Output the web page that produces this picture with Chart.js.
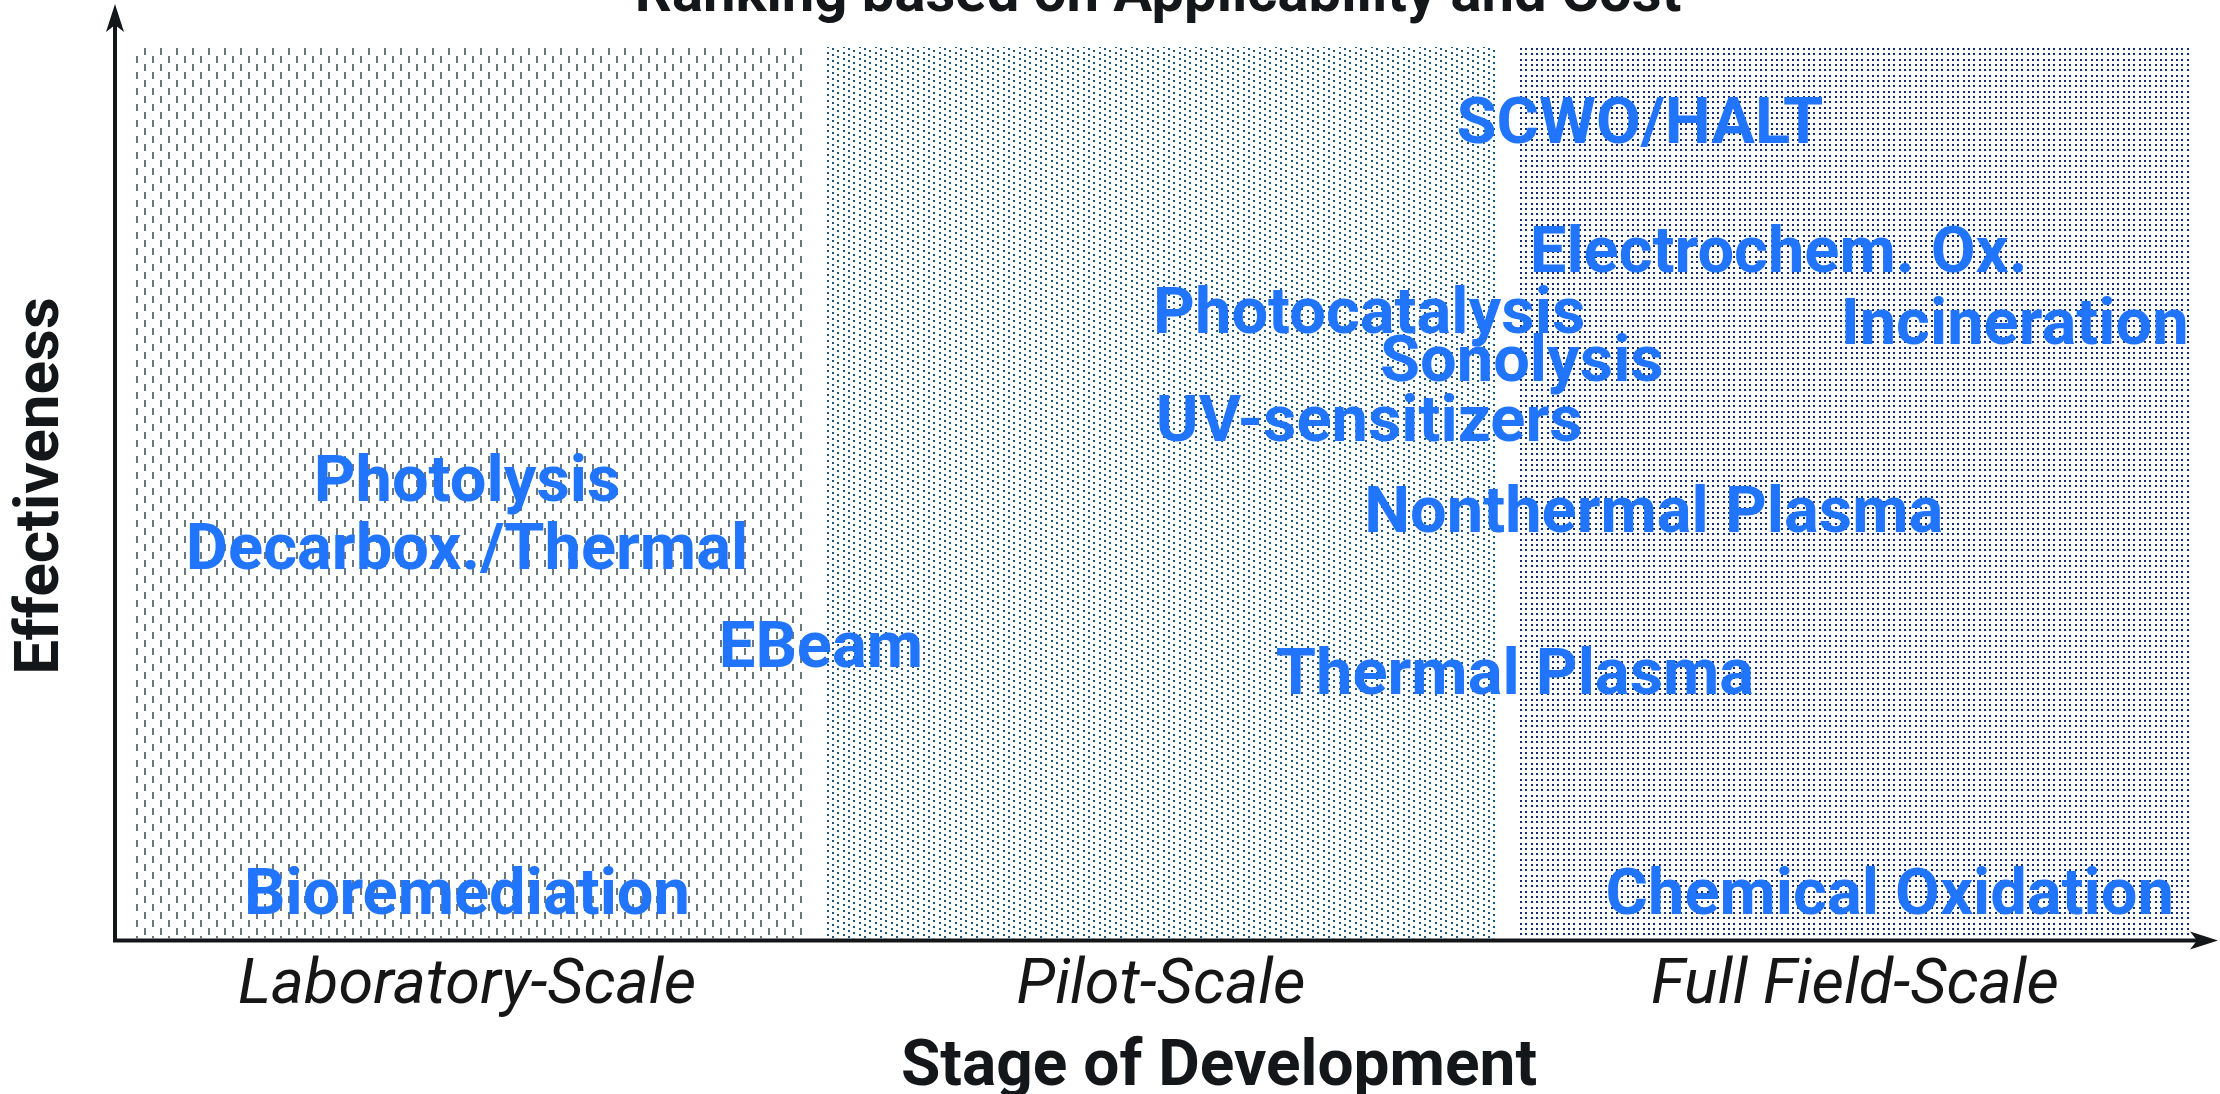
<!DOCTYPE html>
<html>
<head>
<meta charset="utf-8">
<title>Ranking based on Applicability and Cost</title>
<script src="https://cdn.jsdelivr.net/npm/chart.js@4.4.1/dist/chart.umd.min.js"></script>
<style>
  html, body { margin: 0; padding: 0; background: #ffffff; overflow: hidden; }
  canvas { display: block; }
</style>
</head>
<body>
<canvas id="ranking" width="2220" height="1094"></canvas>
<script>
// stages of development along the x axis
const stages = ['Laboratory-Scale', 'Pilot-Scale', 'Full Field-Scale'];
// every stage zone covers the full effectiveness range
const zoneLow = [0, 0, 0];
const zoneHigh = [10, 10, 10];

// technologies: stage position (0 = lab, 1 = pilot, 2 = full field) and effectiveness (0-10)
const techNames = [
  'SCWO/HALT', 'Electrochem. Ox.', 'Photocatalysis', 'Incineration', 'Sonolysis',
  'UV-sensitizers', 'Photolysis', 'Nonthermal Plasma', 'Decarbox./Thermal',
  'EBeam', 'Thermal Plasma', 'Bioremediation', 'Chemical Oxidation'
];
const techStage = [1.69, 1.89, 1.30, 2.23, 1.52, 1.30, 0.00, 1.71, 0.00, 0.51, 1.51, 0.00, 2.05];
const techEffect = [9.16, 7.71, 7.03, 6.91, 6.49, 5.82, 5.14, 4.80, 4.38, 3.28, 2.98, 0.51, 0.51];

const INK = '#141719';
const TECH_BLUE = '#2174fc';

// small repeating tiles used as zone fills
function makePattern(w, h, color, draw) {
  const tile = document.createElement('canvas');
  tile.width = w;
  tile.height = h;
  const g = tile.getContext('2d');
  g.fillStyle = color;
  draw(g);
  return g.createPattern(tile, 'repeat');
}

// lab: staggered vertical dashes
const labFill = makePattern(16, 16, '#6a7882', g => {
  g.fillRect(0, 0, 2, 7);
  g.fillRect(8, 8, 2, 7);
});
// pilot: dots along shallow diagonals
const pilotFill = makePattern(16, 6, '#1d5784', g => {
  g.fillRect(0, 0, 2, 2);
  g.fillRect(5, 2, 2, 2);
  g.fillRect(11, 4, 2, 2);
});
// full field: dense square grid of dots
const fullFill = makePattern(16, 16, '#0f2d78', g => {
  [0, 5, 11].forEach(x => [0, 5, 11].forEach(y => g.fillRect(x, y, 2, 2)));
});

function arrowHead(ctx, tipX, tipY, dirX, dirY) {
  const len = 28, half = 9, notch = 7;
  const px = -dirY, py = dirX;
  ctx.beginPath();
  ctx.moveTo(tipX, tipY);
  ctx.lineTo(tipX - dirX * len + px * half, tipY - dirY * len + py * half);
  ctx.lineTo(tipX - dirX * (len - notch), tipY - dirY * (len - notch));
  ctx.lineTo(tipX - dirX * len - px * half, tipY - dirY * len - py * half);
  ctx.closePath();
  ctx.fill();
}

const decorations = {
  id: 'decorations',
  afterDatasetsDraw(chart) {
    const ctx = chart.ctx;
    const area = chart.chartArea;
    ctx.save();

    // technology names at their scatter positions (nudged so the glyphs sit centred)
    const pts = chart.getDatasetMeta(1).data;
    ctx.fillStyle = TECH_BLUE;
    ctx.font = 'bold 65px Roboto';
    ctx.textAlign = 'center';
    ctx.textBaseline = 'middle';
    pts.forEach((p, i) => ctx.fillText(techNames[i], p.x, p.y + 5));

    // axes with arrow heads
    const ox = area.left - 5;
    const oy = area.bottom + 2;
    ctx.strokeStyle = INK;
    ctx.fillStyle = INK;
    ctx.lineWidth = 4;
    ctx.beginPath();
    ctx.moveTo(ox, 20);
    ctx.lineTo(ox, oy);
    ctx.lineTo(chart.width - 16, oy);
    ctx.stroke();
    arrowHead(ctx, ox, 4, 0, -1);
    arrowHead(ctx, chart.width - 2, oy, 1, 0);

    // titles
    ctx.fillStyle = INK;
    ctx.font = 'bold 58px Roboto';
    ctx.textBaseline = 'alphabetic';
    ctx.fillText('Ranking based on Applicability and Cost', 1158, 11);

    ctx.font = 'bold 64px Roboto';
    ctx.textBaseline = 'middle';
    ctx.fillText('Stage of Development', 1219, 1069);

    ctx.translate(42, 486);
    ctx.rotate(-Math.PI / 2);
    ctx.font = 'bold 62px Roboto';
    ctx.fillText('Effectiveness', 0, 0);
    ctx.restore();
  }
};

new Chart(document.getElementById('ranking'), {
  type: 'bar',
  data: {
    labels: stages,
    datasets: [
      {
        type: 'bar',
        data: stages.map((s, i) => [zoneLow[i], zoneHigh[i]]),
        backgroundColor: [labFill, pilotFill, fullFill],
        borderWidth: 0,
        grouped: false,
        barPercentage: 0.968,
        categoryPercentage: 1,
        xAxisID: 'x',
        yAxisID: 'y'
      },
      {
        type: 'scatter',
        data: techNames.map((n, i) => ({ x: techStage[i], y: techEffect[i] })),
        pointRadius: 0,
        xAxisID: 'xv',
        yAxisID: 'y'
      }
    ]
  },
  options: {
    responsive: false,
    animation: false,
    events: [],
    layout: { padding: { left: 120, right: 18, top: 47, bottom: 58 } },
    scales: {
      x: {
        type: 'category',
        offset: true,
        grid: { display: false, drawTicks: false },
        border: { display: false },
        ticks: {
          color: '#161616',
          font: { family: 'Roboto', style: 'italic', size: 63 },
          padding: 11,
          maxRotation: 0,
          autoSkip: false
        }
      },
      xv: { type: 'linear', display: false, offset: false, min: -0.5, max: 2.5 },
      y: { type: 'linear', display: false, min: 0, max: 10 }
    },
    plugins: {
      legend: { display: false },
      tooltip: { enabled: false },
      title: { display: false }
    }
  },
  plugins: [decorations]
});
</script>
</body>
</html>
